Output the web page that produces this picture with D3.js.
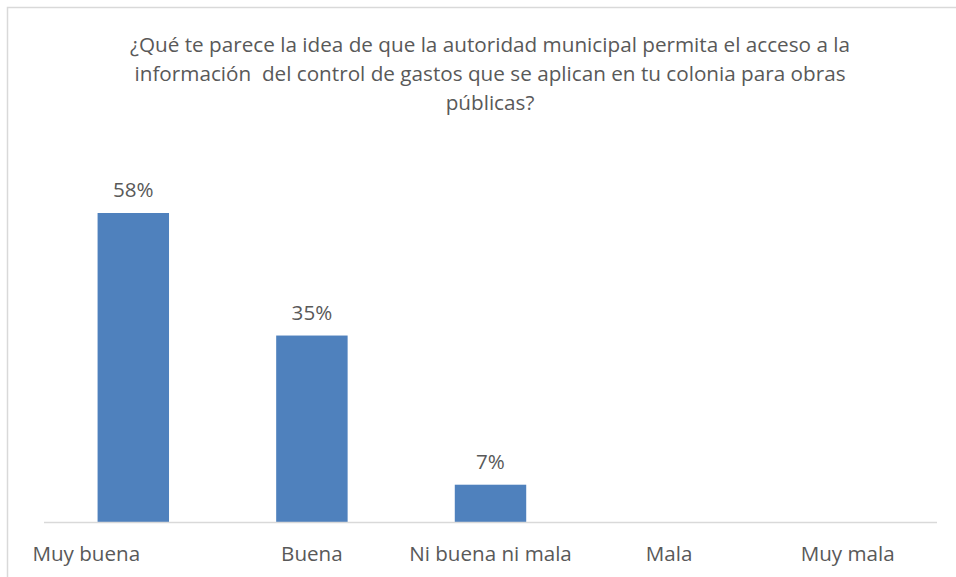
<!DOCTYPE html>
<html><head><meta charset="utf-8">
<script src="https://cdn.jsdelivr.net/npm/d3@7"></script>
<style>body{margin:0;background:#fff}svg{display:block}text{font-family:"Open Sans","Noto Sans",sans-serif;fill:#595959;white-space:pre}</style>
</head><body><svg id="c" width="956" height="577"></svg>
<script>
const categories = ["Muy buena","Buena","Ni buena ni mala","Mala","Muy mala"];
const values = [0.58,0.35,0.07,0,0];
const valueLabels = ["58%","35%","7%","",""];
const titleLines = ["¿Qué te parece la idea de que la autoridad municipal permita el acceso a la","información  del control de gastos que se aplican en tu colonia para obras","públicas?"];

const svg = d3.select("#c");
svg.append("rect").attr("x",7.5).attr("y",7.5).attr("width",1000).attr("height",1000)
  .attr("fill","#fff").attr("stroke","#D9D9D9").attr("stroke-width",1.5);

const x = d3.scaleBand().domain(categories).range([44,937]).paddingInner(0.6).paddingOuter(0.3);
const y = d3.scaleLinear().domain([0,0.58]).range([522,213]);

const data = categories.map((c,i)=>({c,v:values[i],l:valueLabels[i]}));

svg.selectAll("rect.bar").data(data.filter(d=>d.v>0))
  .join("rect").attr("class","bar")
  .attr("x",d=>x(d.c)).attr("width",x.bandwidth())
  .attr("y",d=>y(d.v)).attr("height",d=>y(0)-y(d.v)).attr("fill","#4F81BD");

svg.selectAll("text.vl").data(data.filter(d=>d.l))
  .join("text").attr("class","vl")
  .attr("x",d=>x(d.c)+x.bandwidth()/2).attr("y",d=>y(d.v)-16)
  .attr("text-anchor","middle").attr("font-size",20.6).text(d=>d.l);

svg.append("line").attr("x1",44).attr("x2",937).attr("y1",522.5).attr("y2",522.5)
  .attr("stroke","#D9D9D9").attr("stroke-width",1.5);

const xAxis = d3.axisBottom(x).tickSize(0).tickPadding(0);
const gx = svg.append("g").attr("transform","translate(0,522)").call(xAxis);
gx.select(".domain").remove();
gx.selectAll("text").attr("font-size",20.6).attr("fill","#595959")
  .attr("font-family","'Open Sans','Noto Sans',sans-serif")
  .attr("dy",null).attr("y",39)
  .attr("dx",(d,i)=>i===0?-47:0);

svg.append("g").selectAll("text").data(titleLines).join("text")
  .attr("x",490).attr("y",(d,i)=>52+i*29).attr("text-anchor","middle")
  .attr("font-size",20.7).text(d=>d);
</script></body></html>
